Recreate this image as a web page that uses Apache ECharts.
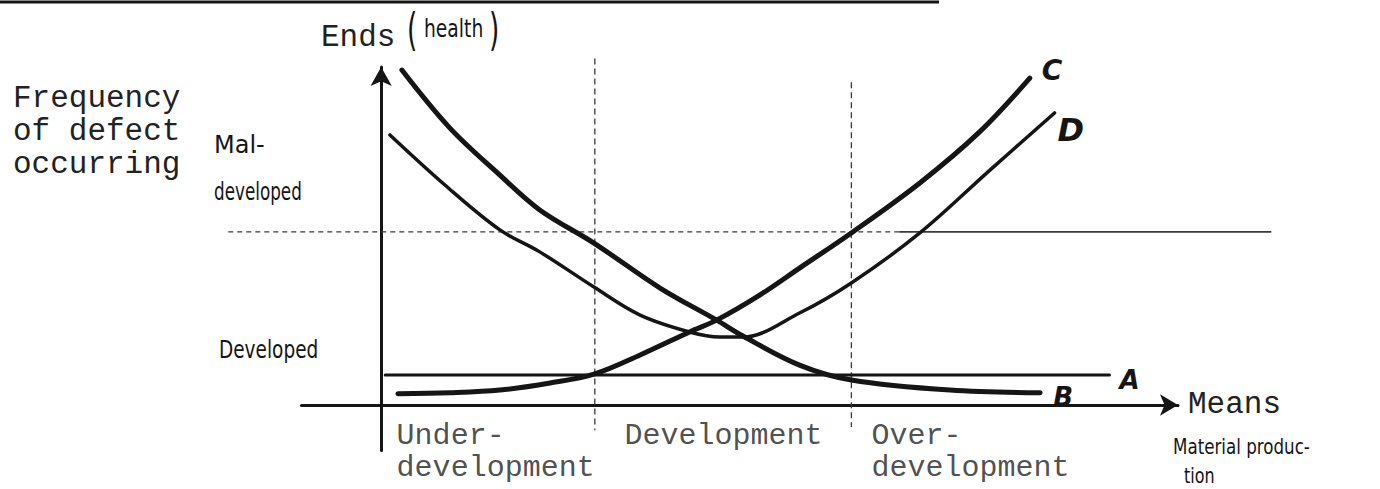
<!DOCTYPE html>
<html>
<head>
<meta charset="utf-8">
<title>Means and ends</title>
<script src="https://cdn.jsdelivr.net/npm/echarts@6/dist/echarts.min.js"></script>
<style>
html, body { margin: 0; padding: 0; background: #fff; }
#main { width: 1380px; height: 489px; }
</style>
</head>
<body>
<div id="main"></div>
<script>
// diagram units: x = means (0..100), y = ends / frequency of defect (0..100)
var curveA = [[0.5, 8.9], [91.4, 8.9]];
var curveB = [[2.6, 99.1], [8.6, 82.0], [14.9, 68.0], [19.9, 57.7], [26.7, 47.9], [35.0, 34.6], [42.1, 25.1], [45.4, 20.4], [52.5, 11.8], [59.0, 7.4], [71.4, 4.4], [82.7, 3.6]];
var curveC = [[2.1, 3.3], [8.6, 3.6], [14.9, 4.4], [21.2, 6.5], [26.8, 9.2], [32.5, 14.8], [38.7, 21.6], [42.1, 25.1], [47.5, 32.5], [52.5, 40.5], [59.0, 50.9], [67.6, 65.7], [75.1, 80.8], [81.4, 96.7]];
var curveD = [[1.1, 79.9], [8.0, 65.1], [14.9, 51.8], [19.9, 45.3], [26.7, 34.9], [32.5, 26.6], [38.7, 21.6], [42.5, 20.1], [45.4, 20.1], [52.5, 27.2], [59.0, 36.1], [67.6, 50.9], [76.4, 69.5], [84.5, 86.4]];

// region boundaries (vertical) and the mal-developed / developed level (horizontal)
var boundaryX = [26.8, 59.0];
var boundaryTop = [102.5, 95.5];
var boundaryBottom = [-7.5, -6.5];
var levelY = 51.2;
var levelFrom = -19.2, levelSplit = 65, levelTo = 111.7;

// regions under the means axis
var regions = ['Under-\ndevelopment', 'Development', 'Over-\ndevelopment'];
var regionStart = [2.0, 30.6, 61.6];
var regionTop = -4.6;

var ink = '#151515';
var monoFamily = '"Liberation Mono", "DejaVu Sans Mono", monospace';
var mono = '31px ' + monoFamily;
var hand = '"DejaVu Sans", "Noto Sans", sans-serif';

var myChart = echarts.init(document.getElementById('main'), null, { renderer: 'svg' });

function curve(name, data, width, label) {
    return {
        name: name,
        type: 'line',
        data: data,
        smooth: 0.35,
        symbol: 'none',
        clip: false,
        lineStyle: { color: ink, width: width, cap: 'round' },
        endLabel: {
            show: true,
            formatter: '{a}',
            distance: 0,
            offset: label.offset,
            color: ink,
            fontFamily: hand,
            fontStyle: 'italic',
            fontWeight: 'bold',
            fontSize: label.size
        }
    };
}

// guides live on a second, wider (hidden) grid with the same scale,
// so they can run past the ends of the drawn axes
function guide(data, type, width) {
    return {
        type: 'line',
        xAxisIndex: 1,
        yAxisIndex: 1,
        data: data,
        symbol: 'none',
        silent: true,
        clip: false,
        lineStyle: { color: '#3a3a3a', width: width, type: type }
    };
}

function handText(x, y, text, size, sx) {
    return {
        type: 'text', x: x, y: y, scaleX: sx,
        style: { text: text, font: size + 'px ' + hand, fill: ink, verticalAlign: 'middle' }
    };
}

var series = [];
boundaryX.forEach(function (bx, i) {
    series.push(guide([[bx, boundaryTop[i]], [bx, boundaryBottom[i]]], [6, 4], 1.3));
});
series.push(guide([[levelFrom, levelY], [levelSplit, levelY]], [5, 4], 1.3));
series.push(guide([[levelSplit, levelY], [levelTo, levelY]], 'solid', 1.8));

series.push(curve('A', curveA, 3, { offset: [10, 5], size: 26 }));
series.push(curve('B', curveB, 5, { offset: [13, 4], size: 26 }));
series.push(curve('C', curveC, 5, { offset: [12, -8], size: 28 }));
series.push(curve('D', curveD, 3.5, { offset: [3, 17], size: 32 }));

series.push({
    type: 'scatter',
    silent: true,
    symbolSize: 1,
    itemStyle: { color: 'rgba(0,0,0,0)' },
    data: regionStart.map(function (x) { return [x, regionTop]; }),
    label: {
        show: true,
        position: [0, 0],
        align: 'left',
        verticalAlign: 'top',
        formatter: function (p) { return regions[p.dataIndex]; },
        fontFamily: monoFamily,
        fontSize: 30,
        lineHeight: 32,
        color: '#222'
    }
});

var hiddenAxis = {
    type: 'value', show: false,
    axisLine: { show: false }, axisTick: { show: false },
    axisLabel: { show: false }, splitLine: { show: false }
};

var option = {
    animation: false,
    backgroundColor: '#fff',
    grid: [
        { left: 301.5, right: 202, top: 67, bottom: 38.4 },
        { left: 221.9, right: 106.3, top: 67, bottom: 38.4 }
    ],
    xAxis: [{
        type: 'value',
        min: -10,
        max: 100,
        name: 'Means',
        nameLocation: 'end',
        nameGap: 10,
        nameTextStyle: { color: '#222', fontFamily: monoFamily, fontSize: 31, padding: [20, 0, 0, 0] },
        axisLine: { onZero: true, symbol: ['none', 'arrow'], symbolSize: [16, 18], lineStyle: { color: ink, width: 3 } },
        axisTick: { show: false },
        axisLabel: { show: false },
        splitLine: { show: false }
    }, echarts.util.merge({ gridIndex: 1, min: -20, max: 112 }, hiddenAxis)],
    yAxis: [{
        type: 'value',
        min: -13.5,
        max: 100,
        axisLine: { onZero: true, symbol: ['none', 'arrow'], symbolSize: [16, 19], lineStyle: { color: ink, width: 3 } },
        axisTick: { show: false },
        axisLabel: { show: false },
        splitLine: { show: false }
    }, echarts.util.merge({ gridIndex: 1, min: -13.5, max: 100 }, hiddenAxis)],
    graphic: [
        { type: 'line', shape: { x1: 0, y1: 2, x2: 939, y2: 2 }, style: { stroke: ink, lineWidth: 3 } },
        { type: 'text', x: 13, y: 82, style: { text: 'Frequency\nof defect\noccurring', font: mono, lineHeight: 33, fill: '#222', verticalAlign: 'top' } },
        { type: 'text', x: 321, y: 37, style: { text: 'Ends', font: mono, fill: '#222', verticalAlign: 'middle' } },
        handText(407, 30, '(', 44, 0.6),
        handText(424, 29, 'health', 24, 0.78),
        handText(489, 30, ')', 44, 0.6),
        handText(214, 145, 'Mal-', 24, 1.0),
        handText(214, 192, 'developed', 24, 0.7),
        handText(219, 349, 'Developed', 25, 0.74),
        handText(1173, 447, 'Material produc-', 22, 0.76),
        handText(1184, 476, 'tion', 21, 0.76)
    ],
    series: series
};

myChart.setOption(option);

window.onresize = function () {
    myChart.resize();
};
</script>
</body>
</html>
